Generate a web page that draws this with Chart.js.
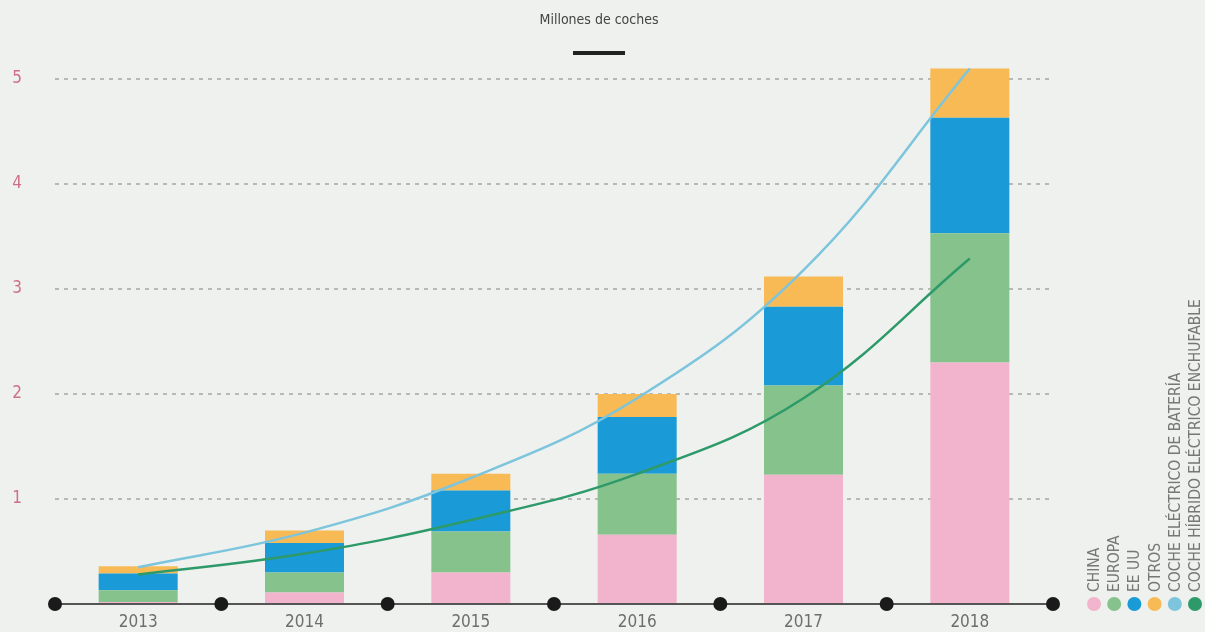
<!DOCTYPE html>
<html>
<head>
<meta charset="utf-8">
<script src="https://cdn.jsdelivr.net/npm/chart.js@4/dist/chart.umd.min.js"></script>
<style>
  html, body { margin: 0; padding: 0; background: #eef1ee; }
  #wrap { width: 1205px; height: 632px; position: relative; }
</style>
</head>
<body>
<div id="wrap"><canvas id="grafico"></canvas></div>
<script>
// Datos (millones de coches)
const years = ['2013', '2014', '2015', '2016', '2017', '2018'];
const china = [0.02, 0.11, 0.30, 0.66, 1.23, 2.30];
const europa = [0.11, 0.19, 0.39, 0.58, 0.85, 1.23];
const eeuu = [0.16, 0.28, 0.39, 0.54, 0.75, 1.10];
const otros = [0.07, 0.12, 0.16, 0.22, 0.29, 0.47];
const bateria = [0.35, 0.68, 1.20, 1.96, 3.18, 5.10];
const enchufable = [0.28, 0.48, 0.80, 1.24, 1.96, 3.29];
const yTicks = [1, 2, 3, 4, 5];

const FONT = '"DejaVu Sans Condensed", "Liberation Sans Narrow", "Roboto", sans-serif';

// fondo del lienzo
const fondo = {
  id: 'fondo',
  beforeDraw(chart) {
    const c = chart.ctx;
    c.save();
    c.fillStyle = '#eef1ee';
    c.fillRect(0, 0, chart.width, chart.height);
    c.restore();
  }
};

// título + barrita negra
const titulo = {
  id: 'titulo',
  afterDraw(chart) {
    const c = chart.ctx;
    c.save();
    c.fillStyle = '#444';
    c.font = '14px ' + FONT;
    c.textAlign = 'center';
    c.textBaseline = 'middle';
    c.fillText('Millones de coches', 599, 20);
    c.fillStyle = '#222';
    c.fillRect(573, 51, 52, 4);
    c.restore();
  }
};

// puntos negros sobre el eje x, en los límites de cada categoría
const puntosEje = {
  id: 'puntosEje',
  afterDatasetsDraw(chart) {
    const c = chart.ctx, a = chart.chartArea;
    const n = years.length, paso = (a.right - a.left) / n;
    c.save();
    c.fillStyle = '#1a1a1a';
    for (let i = 0; i <= n; i++) {
      c.beginPath();
      c.arc(a.left + i * paso, a.bottom, 7, 0, Math.PI * 2);
      c.fill();
    }
    c.restore();
  }
};

// leyenda vertical a la derecha
const leyenda = {
  id: 'leyenda',
  afterDraw(chart) {
    const c = chart.ctx;
    const x0 = 1094, dx = 20.2, yDot = 604;
    c.save();
    chart.data.datasets.forEach((ds, i) => {
      const x = x0 + i * dx;
      c.fillStyle = ds.legendColor;
      c.beginPath();
      c.arc(x, yDot, 7, 0, Math.PI * 2);
      c.fill();
      c.save();
      c.translate(x + 1, yDot - 12);
      c.rotate(-Math.PI / 2);
      c.fillStyle = '#777';
      c.font = '15.5px ' + FONT;
      c.textAlign = 'left';
      c.textBaseline = 'middle';
      c.fillText(ds.label, 0, 0);
      c.restore();
    });
    c.restore();
  }
};

const ctx = document.getElementById('grafico').getContext('2d');

const barra = (label, data, color) => ({
  type: 'bar',
  label: label,
  data: data,
  backgroundColor: color,
  legendColor: color,
  stack: 'regiones',
  order: 2,
  barPercentage: 0.95,
  categoryPercentage: 0.5
});

const linea = (label, data, color, stack) => ({
  type: 'line',
  label: label,
  data: data,
  borderColor: color,
  legendColor: color,
  borderWidth: 2.5,
  pointRadius: 0,
  tension: 0.4,
  fill: false,
  stack: stack,
  order: 1
});

const myChart = new Chart(ctx, {
  type: 'bar',
  data: {
    labels: years,
    datasets: [
      barra('CHINA', china, '#f2b3cd'),
      barra('EUROPA', europa, '#86c28b'),
      barra('EE UU', eeuu, '#1a9ad6'),
      barra('OTROS', otros, '#f7ba55'),
      linea('COCHE ELÉCTRICO DE BATERÍA', bateria, '#7cc5dd', 'bev'),
      linea('COCHE HÍBRIDO ELÉCTRICO ENCHUFABLE', enchufable, '#2e9a6a', 'phev')
    ]
  },
  options: {
    responsive: true,
    maintainAspectRatio: false,
    animation: false,
    layout: { padding: { top: 26.5, right: 152, left: 0, bottom: 0 } },
    plugins: {
      legend: { display: false },
      title: { display: false },
      tooltip: { enabled: false }
    },
    scales: {
      x: {
        stacked: true,
        grid: { display: false, drawTicks: false },
        border: { display: true, color: '#555', width: 2 },
        ticks: {
          color: '#6e6e6e',
          padding: 8,
          font: { size: 17, family: FONT }
        },
        afterFit(scale) {
          scale.height = 28;
          scale.paddingLeft = 0;
          scale.paddingRight = 0;
        }
      },
      y: {
        stacked: true,
        min: 0,
        max: 5.5,
        afterBuildTicks(scale) {
          scale.ticks = [0].concat(yTicks).map(v => ({ value: v }));
        },
        grid: {
          drawTicks: false,
          lineWidth: 2,
          color: c => (c.tick && c.tick.value === 0) ? 'rgba(0,0,0,0)' : '#b6b9b6'
        },
        border: { display: false, dash: [4, 5] },
        ticks: {
          color: '#cf7088',
          padding: 33,
          font: { size: 17, family: FONT },
          callback: v => (v === 0 ? '' : v)
        },
        afterFit(scale) {
          scale.width = 55;
          scale.paddingTop = 0;
          scale.paddingBottom = 0;
        }
      }
    }
  },
  plugins: [fondo, titulo, puntosEje, leyenda]
});
</script>
</body>
</html>
